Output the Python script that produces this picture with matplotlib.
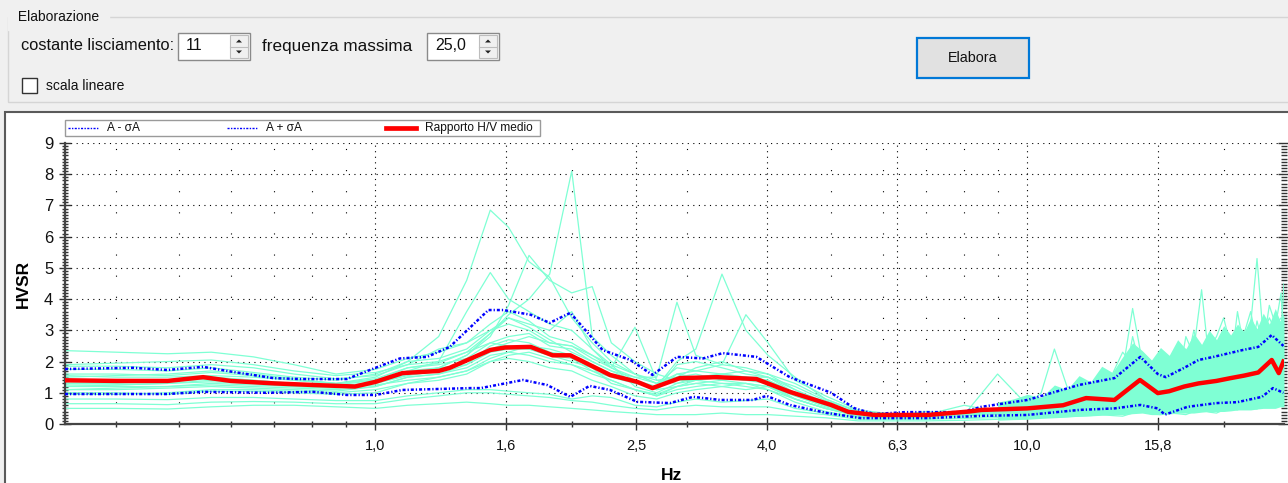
import matplotlib
matplotlib.use("Agg")
import matplotlib.pyplot as plt
from matplotlib.patches import Rectangle, Polygon
from matplotlib.lines import Line2D
from matplotlib.ticker import FixedLocator, FuncFormatter

plt.rcParams['font.family'] = ['Liberation Sans', 'DejaVu Sans']

# ---- data ----
# single-window H/V curves, split in a low band (to 10 Hz) and a denser high band
freq_low = [0.334, 0.40, 0.48, 0.56, 0.65, 0.75, 0.87, 1.00,
            1.12, 1.25, 1.38, 1.50, 1.60, 1.72, 1.85, 2.00, 2.15, 2.30, 2.50, 2.70, 2.90, 3.10, 3.40, 3.70, 4.00,
            4.40, 4.90, 5.50, 6.20, 7.00, 8.00, 9.00, 10.0]
freq_high = [10.5, 11.0, 11.5, 12.0, 12.5, 13.0, 13.5, 14.0, 14.5, 15.0, 15.5, 16.0, 16.5, 17.0, 17.5,
             18.0, 18.5, 19.0, 19.5, 20.0, 20.5, 21.0, 21.5, 22.0, 22.5, 23.0, 23.5, 24.0, 24.5, 24.75]

windows_low = [
    [2.35, 2.30, 2.25, 2.30, 2.15, 1.90, 1.60, 1.75, 2.10, 2.30, 2.60, 3.20, 3.60, 3.30, 2.80, 2.60, 2.20,
     1.80, 1.50, 1.30, 1.80, 1.70, 1.90, 1.80, 1.60, 1.10, 0.70, 0.35, 0.30, 0.32, 0.40, 0.50, 0.60],
    [1.50, 1.55, 1.60, 1.70, 1.60, 1.45, 1.30, 1.50, 2.00, 2.80, 4.60, 6.85, 6.30, 5.20, 4.70, 3.40, 2.60,
     2.00, 1.60, 1.30, 1.60, 1.50, 1.60, 1.50, 1.40, 0.90, 0.60, 0.30, 0.28, 0.27, 0.30, 0.38, 0.45],
    [1.20, 1.25, 1.30, 1.40, 1.30, 1.20, 1.15, 1.30, 1.60, 1.80, 2.20, 2.90, 3.50, 4.00, 4.80, 8.10, 2.80,
     2.20, 1.60, 1.30, 1.50, 1.60, 1.40, 1.50, 1.50, 1.10, 0.60, 0.30, 0.30, 0.30, 0.35, 0.40, 0.50],
    [1.30, 1.30, 1.35, 1.45, 1.35, 1.25, 1.20, 1.35, 1.70, 2.00, 3.60, 4.85, 4.00, 3.60, 3.20, 3.00, 2.40,
     1.80, 1.40, 1.10, 1.90, 2.00, 1.80, 1.60, 1.50, 1.00, 0.65, 0.35, 0.30, 0.30, 0.32, 0.45, 0.50],
    [1.10, 1.10, 1.15, 1.20, 1.15, 1.10, 1.05, 1.20, 1.50, 1.60, 1.90, 2.50, 2.70, 2.60, 2.30, 2.20, 1.90,
     1.60, 1.40, 1.20, 2.00, 2.40, 4.80, 3.00, 2.20, 1.50, 0.80, 0.40, 0.30, 0.30, 0.35, 0.45, 0.55],
    [1.60, 1.60, 1.55, 1.65, 1.55, 1.40, 1.30, 1.45, 1.80, 1.90, 2.10, 2.60, 2.80, 2.90, 2.50, 2.40, 2.00,
     1.70, 1.50, 1.50, 3.90, 2.20, 1.90, 3.50, 2.60, 1.40, 0.90, 0.45, 0.32, 0.30, 0.34, 0.40, 0.60],
    [0.50, 0.50, 0.48, 0.55, 0.60, 0.60, 0.55, 0.50, 0.60, 0.65, 0.70, 0.65, 0.60, 0.60, 0.55, 0.50, 0.45,
     0.40, 0.35, 0.30, 0.30, 0.30, 0.35, 0.30, 0.30, 0.25, 0.20, 0.10, 0.10, 0.10, 0.12, 0.15, 0.20],
    [0.80, 0.80, 0.78, 0.85, 0.85, 0.80, 0.75, 0.75, 0.90, 1.00, 1.10, 1.10, 1.05, 1.00, 0.95, 0.80, 0.90,
     0.85, 0.60, 0.55, 0.70, 0.80, 0.70, 0.75, 0.80, 0.50, 0.35, 0.20, 0.18, 0.18, 0.20, 0.25, 0.30],
    [1.35, 1.35, 1.40, 1.50, 1.40, 1.30, 1.25, 1.40, 1.70, 1.80, 2.20, 2.80, 3.80, 5.40, 4.60, 4.20, 4.40,
     2.60, 2.00, 1.60, 1.40, 1.50, 1.50, 1.40, 1.40, 1.00, 0.60, 0.32, 0.30, 0.30, 0.36, 0.44, 0.50],
    [1.75, 1.75, 1.70, 1.80, 1.65, 1.50, 1.40, 1.60, 2.00, 2.10, 2.40, 3.00, 3.20, 3.00, 2.60, 2.50, 2.20,
     1.90, 1.20, 1.00, 1.30, 1.40, 1.50, 1.45, 1.30, 0.80, 0.50, 0.28, 0.26, 0.26, 0.30, 0.36, 0.40],
    [1.00, 1.00, 0.95, 1.05, 1.05, 1.00, 0.95, 1.00, 1.30, 1.40, 1.60, 2.00, 2.10, 2.00, 1.80, 1.70, 1.40,
     1.20, 0.90, 0.80, 1.00, 1.10, 1.20, 1.10, 1.20, 0.80, 0.50, 0.25, 0.22, 0.22, 0.26, 0.32, 0.38],
    [1.40, 1.40, 1.40, 1.50, 1.40, 1.30, 1.20, 1.30, 1.60, 1.80, 1.90, 2.30, 2.40, 2.40, 2.20, 2.10, 1.70,
     1.50, 1.30, 1.20, 1.40, 1.40, 1.50, 1.40, 1.30, 1.00, 0.60, 0.30, 0.28, 0.28, 0.32, 0.40, 0.50],
    [1.90, 1.95, 2.00, 2.05, 1.90, 1.70, 1.55, 1.65, 1.90, 2.00, 2.30, 2.60, 2.50, 2.40, 2.20, 2.00, 1.80,
     1.60, 1.40, 1.10, 1.20, 1.40, 1.30, 1.30, 1.20, 0.80, 0.50, 0.30, 0.28, 0.30, 0.60, 0.40, 0.70],
    [1.20, 1.20, 1.20, 1.25, 1.20, 1.15, 1.10, 1.20, 1.50, 1.60, 1.80, 2.20, 2.30, 2.20, 2.00, 1.90, 1.60,
     1.40, 1.10, 0.90, 1.20, 1.30, 1.40, 1.30, 1.20, 0.90, 0.55, 0.28, 0.26, 0.40, 0.30, 1.60, 0.60],
    [1.55, 1.50, 1.50, 1.55, 1.50, 1.40, 1.30, 1.40, 1.80, 1.95, 2.30, 2.90, 3.40, 3.10, 2.70, 2.30, 2.00,
     1.70, 1.35, 1.10, 1.60, 1.70, 1.60, 1.70, 1.50, 1.20, 0.75, 0.40, 0.30, 0.30, 0.38, 0.45, 0.55],
    [1.10, 1.15, 1.20, 1.30, 1.25, 1.20, 1.15, 1.25, 1.40, 1.50, 1.70, 2.10, 2.30, 2.50, 2.40, 2.20, 1.80,
     1.30, 1.10, 0.90, 1.10, 1.20, 1.30, 1.20, 1.10, 0.70, 0.40, 0.22, 0.20, 0.22, 0.26, 0.30, 0.35],
    [1.85, 1.85, 1.80, 1.90, 1.80, 1.60, 1.45, 1.55, 1.90, 2.40, 2.60, 3.00, 3.40, 3.20, 3.00, 3.60, 2.40,
     1.90, 1.60, 1.40, 1.50, 1.80, 2.00, 1.70, 1.60, 1.30, 0.80, 0.40, 0.32, 0.32, 0.40, 0.45, 0.55],
    [0.65, 0.65, 0.62, 0.70, 0.72, 0.70, 0.65, 0.65, 0.80, 0.90, 1.00, 1.00, 0.95, 0.90, 0.85, 0.75, 0.70,
     0.60, 0.50, 0.45, 0.55, 0.60, 0.55, 0.55, 0.55, 0.40, 0.30, 0.15, 0.15, 0.15, 0.18, 0.20, 0.25],
    [1.25, 1.25, 1.30, 1.35, 1.30, 1.25, 1.20, 1.30, 1.55, 1.70, 2.00, 2.40, 2.60, 2.80, 2.60, 2.50, 2.10,
     1.80, 3.10, 1.40, 1.30, 1.50, 1.60, 1.50, 1.40, 1.00, 0.60, 0.30, 0.26, 0.28, 0.30, 0.40, 0.45],
    [0.95, 0.95, 1.00, 1.10, 1.10, 1.05, 1.00, 1.10, 1.30, 1.50, 1.70, 2.00, 2.20, 2.30, 2.10, 1.90, 1.70,
     1.40, 1.10, 0.95, 1.20, 1.30, 1.20, 1.30, 1.10, 0.80, 0.50, 0.25, 0.22, 0.24, 0.28, 0.34, 0.40],
]

windows_high = [
    [0.65, 0.70, 0.85, 1.00, 1.20, 1.40, 1.10, 1.30, 2.00, 1.60, 1.50, 1.30, 1.60, 1.50, 2.40,
     1.80, 1.50, 1.90, 2.10, 2.60, 2.20, 2.00, 2.60, 2.80, 2.20, 2.50, 3.00, 2.60, 2.40, 3.10],
    [0.48, 0.50, 0.55, 0.60, 0.65, 0.70, 0.80, 0.90, 1.40, 1.10, 0.90, 1.00, 1.10, 1.20, 0.90,
     1.10, 1.40, 1.20, 1.30, 1.60, 1.40, 1.30, 1.80, 1.60, 1.50, 1.80, 2.10, 1.90, 1.60, 2.20],
    [0.55, 0.60, 0.58, 0.55, 0.70, 0.90, 0.75, 0.70, 1.10, 1.40, 1.30, 0.90, 1.00, 1.00, 1.30,
     1.10, 1.00, 1.50, 1.30, 1.20, 1.70, 1.50, 1.40, 1.90, 1.70, 1.60, 2.00, 1.80, 2.00, 1.80],
    [0.52, 0.55, 0.70, 0.80, 0.65, 0.60, 0.90, 1.20, 0.90, 1.00, 1.10, 0.80, 1.00, 1.40, 1.10,
     1.00, 1.30, 1.60, 1.30, 1.10, 1.50, 1.40, 1.30, 1.80, 1.50, 1.40, 1.90, 2.30, 2.00, 1.90],
    [0.70, 0.80, 0.75, 0.70, 0.85, 1.00, 1.40, 1.60, 1.20, 1.00, 0.90, 1.20, 1.10, 1.00, 1.50,
     1.20, 1.10, 1.00, 1.50, 1.70, 1.30, 1.40, 2.00, 1.80, 1.60, 1.30, 1.80, 2.20, 2.00, 1.70],
    [0.65, 0.70, 1.00, 1.20, 0.90, 0.80, 0.90, 1.20, 1.70, 1.30, 1.10, 1.40, 1.00, 0.90, 1.20,
     1.50, 1.70, 1.50, 1.40, 1.20, 1.10, 1.90, 1.60, 1.50, 1.20, 1.80, 2.30, 1.80, 1.50, 2.60],
    [0.21, 0.22, 0.24, 0.25, 0.27, 0.30, 0.27, 0.25, 0.35, 0.40, 0.32, 0.30, 0.35, 0.33, 0.30,
     0.40, 0.45, 0.38, 0.35, 0.45, 0.50, 0.45, 0.55, 0.50, 0.48, 0.60, 0.55, 0.65, 0.72, 0.62],
    [0.32, 0.35, 0.38, 0.40, 0.50, 0.60, 0.50, 0.45, 0.55, 0.60, 0.50, 0.60, 0.75, 0.60, 0.55,
     0.70, 0.80, 0.65, 0.70, 0.85, 0.90, 0.80, 0.95, 1.00, 0.90, 1.10, 1.00, 1.20, 1.30, 1.00],
    [0.55, 0.60, 0.65, 0.70, 0.75, 0.85, 0.80, 0.80, 1.10, 1.20, 1.00, 0.90, 0.95, 0.95, 1.10,
     1.20, 1.15, 1.30, 1.35, 1.40, 1.50, 1.60, 1.55, 1.60, 1.70, 1.80, 1.90, 1.85, 1.80, 2.10],
    [0.42, 0.45, 0.50, 0.55, 0.60, 0.70, 0.65, 0.60, 0.80, 0.90, 0.80, 0.75, 0.80, 0.70, 0.90,
     1.00, 0.90, 0.95, 1.00, 1.10, 1.20, 1.30, 1.25, 1.20, 1.40, 1.50, 1.45, 1.40, 1.50, 1.80],
    [0.40, 0.45, 0.48, 0.50, 0.52, 0.55, 0.50, 0.50, 0.70, 0.80, 0.65, 0.60, 0.65, 0.70, 0.75,
     0.80, 0.70, 0.80, 0.85, 0.90, 1.00, 0.85, 1.00, 1.10, 1.00, 1.10, 1.20, 1.15, 1.10, 1.40],
    [0.55, 0.60, 0.90, 1.10, 1.00, 1.00, 1.20, 1.70, 3.70, 2.00, 1.50, 1.60, 1.80, 2.20, 1.80,
     2.40, 4.30, 2.00, 2.40, 3.00, 2.60, 2.40, 2.80, 3.20, 5.30, 2.80, 2.60, 3.20, 3.40, 2.80],
    [0.80, 1.00, 0.90, 0.80, 1.00, 1.30, 1.60, 2.30, 1.90, 1.60, 1.80, 1.90, 1.50, 1.30, 2.80,
     2.20, 1.70, 2.40, 2.80, 3.40, 2.50, 2.10, 2.90, 3.60, 2.60, 2.50, 3.80, 3.20, 2.90, 4.50],
    [1.00, 2.40, 1.20, 0.90, 1.10, 1.50, 1.20, 1.00, 2.80, 1.60, 1.20, 1.60, 2.00, 1.40, 1.80,
     3.00, 2.00, 1.60, 2.60, 2.00, 1.80, 3.60, 2.40, 2.20, 3.30, 2.50, 2.00, 3.10, 4.20, 2.40],
    [0.62, 0.65, 0.70, 0.75, 0.90, 1.10, 0.95, 0.90, 1.50, 1.70, 1.30, 1.10, 1.30, 1.20, 1.40,
     1.70, 1.50, 1.60, 1.80, 2.00, 1.70, 2.10, 2.30, 1.90, 2.20, 2.50, 2.20, 2.60, 2.40, 2.70],
    [0.38, 0.40, 0.42, 0.45, 0.48, 0.55, 0.50, 0.55, 0.65, 0.70, 0.60, 0.55, 0.60, 0.65, 0.70,
     0.75, 0.65, 0.80, 0.90, 0.85, 0.95, 1.00, 0.90, 1.05, 1.10, 1.00, 1.15, 1.30, 1.20, 1.20],
    [0.60, 0.70, 0.80, 0.95, 1.20, 1.50, 1.30, 1.20, 2.10, 1.80, 1.40, 1.50, 1.70, 1.60, 1.90,
     2.20, 2.00, 2.30, 2.00, 2.50, 2.70, 2.30, 2.60, 3.00, 2.70, 2.90, 3.40, 3.00, 2.80, 3.50],
    [0.28, 0.30, 0.32, 0.35, 0.40, 0.45, 0.40, 0.38, 0.50, 0.55, 0.45, 0.42, 0.48, 0.52, 0.50,
     0.60, 0.55, 0.58, 0.62, 0.70, 0.65, 0.72, 0.80, 0.75, 0.80, 0.90, 0.85, 0.95, 1.00, 0.90],
    [0.48, 0.55, 0.60, 0.70, 0.85, 1.00, 0.90, 0.85, 1.30, 1.10, 0.95, 1.00, 1.20, 1.10, 1.00,
     1.30, 1.40, 1.30, 1.60, 1.50, 1.70, 1.90, 1.60, 1.80, 2.10, 1.90, 2.20, 2.40, 2.10, 2.30],
    [0.45, 0.50, 0.55, 0.62, 0.70, 0.80, 0.70, 0.70, 1.00, 0.95, 0.80, 0.85, 0.90, 0.85, 0.95,
     1.10, 1.00, 1.10, 1.20, 1.30, 1.25, 1.30, 1.40, 1.50, 1.40, 1.60, 1.70, 1.60, 1.70, 1.90],
]

# where the many window curves overlap into a solid band (lower / upper edge)
freq_band = [9.0, 9.5, 10.0, 10.5, 11.0, 11.5, 12.0, 12.5, 13.0, 13.5, 14.0, 14.5, 15.0, 15.5, 16.0,
             16.5, 17.0, 17.5, 18.0, 18.5, 19.0, 19.5, 20.0, 20.5, 21.0, 21.5, 22.0, 22.5, 23.0, 23.5,
             24.0, 24.4, 24.75]
band_lo = [0.12, 0.14, 0.15, 0.18, 0.20, 0.22, 0.25, 0.26, 0.28, 0.30, 0.30, 0.33, 0.35, 0.30, 0.30,
           0.32, 0.35, 0.35, 0.35, 0.38, 0.40, 0.40, 0.40, 0.42, 0.45, 0.45, 0.45, 0.48, 0.50, 0.50,
           0.50, 0.55, 0.55]
band_hi = [0.70, 0.80, 0.95, 0.85, 1.25, 1.10, 1.55, 1.35, 1.85, 1.65, 2.15, 2.60, 2.35, 2.05, 2.45,
           2.20, 2.70, 2.40, 2.90, 2.55, 3.00, 2.70, 3.15, 2.85, 3.20, 2.95, 3.40, 3.05, 3.55, 3.20,
           3.70, 3.30, 3.45]

freq_mean = [0.334, 0.40, 0.48, 0.544, 0.60, 0.70, 0.80, 0.93, 1.0, 1.10, 1.25, 1.30, 1.50, 1.58, 1.73,
             1.87, 1.99, 2.29, 2.52, 2.66, 2.93, 3.34, 3.84, 4.32, 5.0, 5.31, 5.82, 7.04, 8.14, 8.5, 10.0,
             11.34, 12.3, 13.6, 14.88, 15.85, 16.5, 17.4, 18.3, 19.5, 20.5, 21.5, 22.6, 23.7, 24.3, 24.7]
hv_mean = [1.40, 1.38, 1.38, 1.50, 1.38, 1.30, 1.25, 1.20, 1.35, 1.63, 1.70, 1.80, 2.37, 2.45, 2.47,
           2.20, 2.20, 1.57, 1.35, 1.15, 1.47, 1.50, 1.44, 1.03, 0.61, 0.39, 0.29, 0.29, 0.40, 0.45, 0.50,
           0.60, 0.83, 0.77, 1.41, 0.99, 1.05, 1.20, 1.30, 1.38, 1.47, 1.55, 1.65, 2.05, 1.63, 2.00]

freq_up = [0.334, 0.425, 0.479, 0.544, 0.604, 0.697, 0.766, 0.904, 1.0, 1.09, 1.20, 1.30, 1.49, 1.57,
           1.73, 1.85, 1.99, 2.08, 2.23, 2.46, 2.66, 2.90, 3.18, 3.41, 3.84, 4.32, 5.0, 5.42, 5.82, 6.49,
           7.94, 8.5, 10.0, 12.0, 13.6, 14.9, 15.85, 16.3, 17.4, 18.3, 19.3, 21.4, 22.6, 23.7, 24.7]
hv_up = [1.76, 1.80, 1.73, 1.83, 1.67, 1.47, 1.44, 1.44, 1.80, 2.10, 2.15, 2.47, 3.65, 3.65,
         3.50, 3.24, 3.56, 3.10, 2.37, 2.05, 1.57, 2.15, 2.10, 2.27, 2.15, 1.50, 1.00, 0.51, 0.32, 0.38,
         0.38, 0.55, 0.77, 1.25, 1.47, 2.15, 1.60, 1.50, 1.80, 2.05, 2.15, 2.37, 2.47, 2.85, 2.50]

freq_lo = [0.334, 0.479, 0.544, 0.682, 0.802, 0.904, 1.0, 1.10, 1.40, 1.45, 1.684, 1.833, 1.99, 2.13,
           2.29, 2.52, 2.83, 3.07, 3.38, 3.79, 3.98, 4.32, 4.93, 5.55, 7.04, 8.5, 10.0, 12.0, 13.6,
           14.9, 15.85, 16.25, 17.6, 19.5, 21.0, 22.9, 23.8, 24.7]
hv_lo = [0.96, 0.96, 1.03, 1.00, 1.03, 0.93, 0.93, 1.09, 1.15, 1.15, 1.41, 1.25, 0.87, 1.22,
         1.09, 0.71, 0.67, 0.87, 0.77, 0.77, 0.90, 0.61, 0.35, 0.19, 0.19, 0.26, 0.29, 0.45, 0.50,
         0.61, 0.50, 0.30, 0.55, 0.67, 0.70, 0.87, 1.15, 1.00]

major_hz = [1.0, 1.585, 2.512, 3.981, 6.310, 10.0, 15.849]
minor_hz = [0.4, 0.5, 0.6, 0.7, 0.8, 0.9, 2, 3, 5, 6, 7, 8, 9, 20]

# ---- figure / window ----
W, H = 1288, 483
fig = plt.figure(figsize=(W / 100, H / 100), dpi=100, facecolor='#f0f0f0')


def fx(px):
    return px / W


def fy(py):
    return 1 - py / H


def box(x0, y0, x1, y1, **kw):
    kw.setdefault('zorder', 1)
    fig.add_artist(Rectangle((fx(x0), fy(y1)), fx(x1) - fx(x0), fy(y0) - fy(y1),
                             transform=fig.transFigure, **kw))


def tri(cx, cy, up):
    d = 3 if up else -3
    pts = [(fx(cx - 3), fy(cy + d / 2)), (fx(cx + 3), fy(cy + d / 2)), (fx(cx), fy(cy - d / 2))]
    fig.add_artist(Polygon(pts, closed=True, transform=fig.transFigure, color='#222222', lw=0))


# group box "Elaborazione"
box(8, 17, 1300, 102, facecolor='none', edgecolor='#d5d5d5', lw=1)
fig.text(fx(14), fy(17), ' Elaborazione ', fontsize=10, va='center', ha='left',
         backgroundcolor='#f0f0f0', color='#111111')

fig.text(fx(21), fy(46), 'costante lisciamento:', fontsize=11.8, va='center', color='#111111')
fig.text(fx(262), fy(46), 'frequenza massima', fontsize=12.3, va='center', color='#111111')

for x0, txt in [(178, '11'), (427, '25,0')]:
    box(x0, 33, x0 + 72, 60, facecolor='white', edgecolor='#8a8a8a', lw=1)
    box(x0 + 52, 35, x0 + 70, 58, facecolor='#f0f0f0', edgecolor='#bdbdbd', lw=0.8)
    fig.add_artist(Line2D([fx(x0 + 52), fx(x0 + 70)], [fy(46.5), fy(46.5)],
                          transform=fig.transFigure, color='#bdbdbd', lw=0.8))
    tri(x0 + 61, 41, True)
    tri(x0 + 61, 52, False)
    fig.text(fx(x0 + 8), fy(46), txt, fontsize=11.5, va='center', color='#111111')

box(22, 78, 37, 93, facecolor='white', edgecolor='#333333', lw=1)
fig.text(fx(46), fy(86), 'scala lineare', fontsize=10, va='center', color='#111111')

box(917, 38, 1029, 78, facecolor='#e1e1e1', edgecolor='#0078d7', lw=1.6)
fig.text(fx(973), fy(58), 'Elabora', fontsize=10.3, va='center', ha='center', color='#111111')

# chart control background
box(5, 112, 1295, 490, facecolor='white', edgecolor='#5a5a5a', lw=1.5, zorder=-1)

# ---- plot ----
ax = fig.add_axes([fx(65), fy(424), fx(1284) - fx(65), fy(143) - fy(424)])
ax.set_facecolor('none')
ax.set_zorder(2)

cyan = '#7fffd4'
ax.fill_between(freq_band, band_lo, band_hi, color=cyan, lw=0, zorder=2)
for lo, hi in zip(windows_low, windows_high):
    ax.plot(freq_low + freq_high, lo + hi, color=cyan, lw=0.9, zorder=2)

blue_ls = (0, (1.2, 0.8, 0.5, 0.8))
ax.plot(freq_lo, hv_lo, color='#0000ff', lw=1.8, ls=blue_ls, zorder=3)
ax.plot(freq_up, hv_up, color='#0000ff', lw=1.8, ls=blue_ls, zorder=3)
ax.plot(freq_mean, hv_mean, color='#ff0000', lw=3.2, zorder=4)

ax.set_xscale('log')
ax.set_xlim(0.334, 24.75)
ax.set_ylim(0, 9)

ax.xaxis.set_major_locator(FixedLocator(major_hz))
ax.xaxis.set_minor_locator(FixedLocator(minor_hz))
ax.xaxis.set_major_formatter(FuncFormatter(lambda v, _: f'{v:.1f}'.replace('.', ',')))
ax.xaxis.set_minor_formatter(FuncFormatter(lambda v, _: ''))
ax.yaxis.set_major_locator(FixedLocator(range(10)))
ax.yaxis.set_minor_locator(FixedLocator([i / 10 for i in range(91) if i % 10]))

ax.tick_params(axis='x', which='major', direction='inout', length=9, width=1, pad=6,
               labelsize=10.5, colors='#333333', labelcolor='#111111')
ax.tick_params(axis='x', which='minor', direction='inout', length=5, width=1, colors='#333333')
ax.tick_params(axis='y', which='major', direction='inout', length=9, width=1, pad=4,
               labelsize=12, colors='#333333', labelcolor='#111111', right=True)
ax.tick_params(axis='y', which='minor', direction='inout', length=5, width=1,
               colors='#333333', right=True)

ax.grid(which='major', color='black', lw=0.8, ls=(0, (1, 4)))
ax.grid(which='minor', axis='x', color='black', lw=0.8, ls=(0, (1, 18)))

for s in ('top', 'right'):
    ax.spines[s].set_visible(False)
for s in ('left', 'bottom'):
    ax.spines[s].set_color('#444444')
    ax.spines[s].set_linewidth(1.6)

ax.set_ylabel('HVSR', fontsize=12.5, fontweight='bold')
ax.yaxis.set_label_coords(-(65 - 31) / (1284 - 65), 0.5)
ax.set_xlabel('Hz', fontsize=12.5, fontweight='bold')
ax.xaxis.set_label_coords((672 - 65) / (1284 - 65), -(468 - 424) / (424 - 143))

# legend box drawn as in the original control
box(65, 120, 540, 136, facecolor='white', edgecolor='#9a9a9a', lw=1, zorder=3)
for x0, txt, col, lw, ls in [(68, 'A - σA', '#0000ff', 1, (0, (1.5, 1, 1, 1))),
                             (227, 'A + σA', '#0000ff', 1, (0, (1.5, 1, 1, 1))),
                             (386, 'Rapporto H/V medio', '#ff0000', 3.4, '-')]:
    fig.add_artist(Line2D([fx(x0), fx(x0 + 30)], [fy(128), fy(128)], transform=fig.transFigure,
                          color=col, lw=lw, ls=ls, zorder=4))
    fig.text(fx(x0 + 39), fy(128), txt, fontsize=8.6, va='center', color='#111111', zorder=4)

fig.savefig('out.png', dpi=100, facecolor=fig.get_facecolor())
